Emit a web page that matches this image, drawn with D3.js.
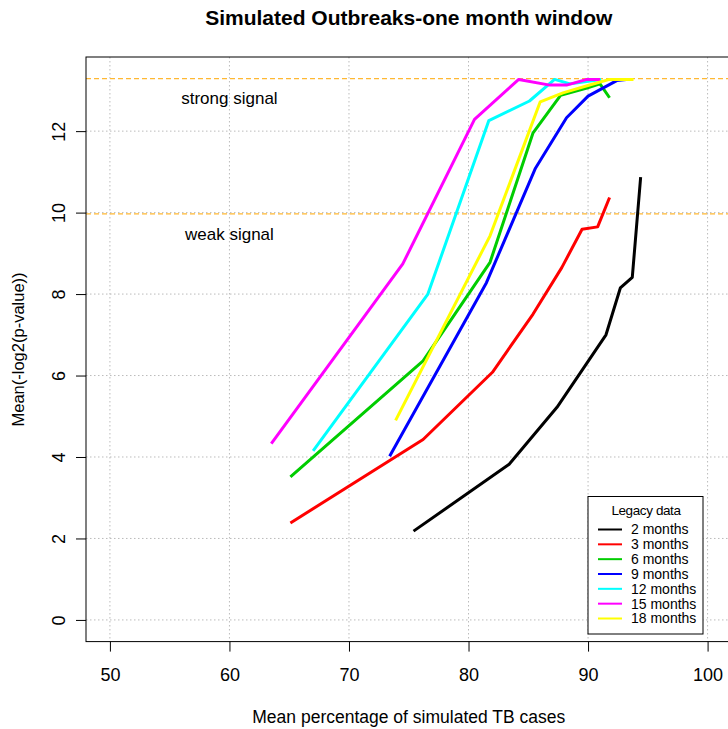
<!DOCTYPE html>
<html>
<head>
<meta charset="utf-8">
<script src="https://cdn.jsdelivr.net/npm/d3@7"></script>
<style>
  body { margin: 0; background: #fff; }
  svg { font-family: "Liberation Sans", Arial, sans-serif; }
</style>
</head>
<body>
<svg id="chart" width="728" height="729"></svg>
<script>
// series: mean % of simulated TB cases (x) vs mean -log2(p-value) (y)
var months = ["2 months", "3 months", "6 months", "9 months", "12 months", "15 months", "18 months"];
var colors = ["black", "red", "#00cd00", "blue", "cyan", "magenta", "yellow"];

var x2 = [75.4, 83.4, 87.4, 91.5, 92.7, 93.7, 94.4];
var y2 = [2.18, 3.82, 5.22, 7.00, 8.15, 8.41, 10.87];
var x3 = [65.1, 76.2, 82.0, 85.4, 87.8, 89.5, 90.8, 91.8];
var y3 = [2.38, 4.43, 6.08, 7.51, 8.65, 9.59, 9.65, 10.37];
var x6 = [65.1, 76.2, 81.8, 85.4, 87.7, 89.9, 91.0, 91.8];
var y6 = [3.51, 6.36, 8.78, 11.96, 12.88, 13.06, 13.16, 12.82];
var x9 = [73.4, 81.5, 85.6, 88.2, 90.0, 92.4, 93.2];
var y9 = [4.02, 8.28, 11.09, 12.33, 12.86, 13.24, 13.27];
var x12 = [67.0, 76.6, 81.7, 85.1, 87.2, 88.5, 91.1];
var y12 = [4.15, 8.00, 12.26, 12.74, 13.27, 13.16, 13.27];
var x15 = [63.5, 74.5, 80.5, 84.2, 86.8, 88.2, 89.9, 91.0];
var y15 = [4.33, 8.74, 12.29, 13.27, 13.13, 13.13, 13.27, 13.27];
var x18 = [73.9, 81.8, 86.0, 87.9, 90.2, 91.8, 93.8];
var y18 = [4.90, 9.43, 12.72, 12.94, 13.14, 13.27, 13.27];

var xs = [x2, x3, x6, x9, x12, x15, x18];
var ys = [y2, y3, y6, y9, y12, y15, y18];

var xTicks = [50, 60, 70, 80, 90, 100];
var yTicks = [0, 2, 4, 6, 8, 10, 12];
var strongLevel = 13.29, weakLevel = 9.97;

var svg = d3.select("#chart");

var margin = {top: 57, left: 86};
var width = 645.5, height = 584.6;

var xScale = d3.scaleLinear().domain([48, 102]).range([margin.left, margin.left + width]);
var yScale = d3.scaleLinear().domain([-0.532, 13.82]).range([margin.top + height, margin.top]);

// grid
svg.append("g").selectAll("line").data(xTicks).enter().append("line")
  .attr("x1", function(d) { return xScale(d); })
  .attr("x2", function(d) { return xScale(d); })
  .attr("y1", margin.top).attr("y2", margin.top + height)
  .attr("stroke", "#bbb").attr("stroke-dasharray", "1.5,2.5");
svg.append("g").selectAll("line").data(yTicks).enter().append("line")
  .attr("y1", function(d) { return yScale(d); })
  .attr("y2", function(d) { return yScale(d); })
  .attr("x1", margin.left).attr("x2", margin.left + width)
  .attr("stroke", "#bbb").attr("stroke-dasharray", "1.5,2.5");

// thresholds
[strongLevel, weakLevel].forEach(function(v) {
  svg.append("line")
    .attr("x1", margin.left).attr("x2", margin.left + width)
    .attr("y1", yScale(v)).attr("y2", yScale(v))
    .attr("stroke", "#ffb833").attr("stroke-width", 1.3)
    .attr("stroke-dasharray", "5,3");
});

svg.append("text").attr("x", xScale(60)).attr("y", yScale(12.8))
  .attr("text-anchor", "middle").attr("dy", "0.35em")
  .style("font-size", "17px").text("strong signal");
svg.append("text").attr("x", xScale(60)).attr("y", yScale(9.48))
  .attr("text-anchor", "middle").attr("dy", "0.35em")
  .style("font-size", "17px").text("weak signal");

// lines
var plotLine = d3.line()
  .x(function(d) { return xScale(d[0]); })
  .y(function(d) { return yScale(d[1]); });

for (var i = 0; i < months.length; i++) {
  var pts = xs[i].map(function(v, j) { return [v, ys[i][j]]; });
  svg.append("path")
    .datum(pts)
    .attr("d", plotLine)
    .attr("fill", "none")
    .attr("stroke", colors[i])
    .attr("stroke-width", 3)
    .attr("stroke-linejoin", "round");
}

// box
svg.append("rect")
  .attr("x", margin.left).attr("y", margin.top)
  .attr("width", width).attr("height", height)
  .attr("fill", "none").attr("stroke", "black").attr("stroke-width", 1);

// axes
var xAxis = d3.axisBottom(xScale).tickValues(xTicks).tickSize(10).tickPadding(17);
var gx = svg.append("g")
  .attr("transform", "translate(0," + (margin.top + height) + ")")
  .call(xAxis);
gx.select(".domain").remove();
gx.selectAll("text").style("font-size", "18px").attr("fill", "#000");

var yAxis = d3.axisLeft(yScale).tickValues(yTicks).tickSize(10);
var gy = svg.append("g")
  .attr("transform", "translate(" + margin.left + ",0)")
  .call(yAxis);
gy.select(".domain").remove();
gy.selectAll("text").remove();
gy.selectAll(".tick").append("text")
  .attr("transform", "translate(-21,0) rotate(-90)")
  .attr("text-anchor", "middle")
  .attr("fill", "#000")
  .style("font-size", "18px")
  .text(function(d) { return d; });

// titles
svg.append("text").attr("x", xScale(75)).attr("y", 25)
  .attr("text-anchor", "middle").style("font-size", "21px").style("font-weight", "bold")
  .text("Simulated Outbreaks-one month window");
svg.append("text").attr("x", xScale(75)).attr("y", 723)
  .attr("text-anchor", "middle").style("font-size", "17.5px")
  .text("Mean percentage of simulated TB cases");
svg.append("text")
  .attr("transform", "translate(24," + yScale(6.64) + ") rotate(-90)")
  .attr("text-anchor", "middle").style("font-size", "16.5px")
  .text("Mean(-log2(p-value))");

// legend
var lg = svg.append("g");
lg.append("rect").attr("x", 588).attr("y", 496.5).attr("width", 115).attr("height", 137.5)
  .attr("fill", "white").attr("stroke", "black");
lg.append("text").attr("x", 646).attr("y", 515).attr("text-anchor", "middle")
  .style("font-size", "13.5px").style("letter-spacing", "-0.4px").text("Legacy data");
var rowY = d3.scaleLinear().domain([0, 6]).range([529.5, 618.5]);
lg.selectAll(".item").data(months).enter().append("line")
  .attr("x1", 598).attr("x2", 622)
  .attr("y1", function(d, i) { return rowY(i); })
  .attr("y2", function(d, i) { return rowY(i); })
  .attr("stroke", function(d, i) { return colors[i]; })
  .attr("stroke-width", 2);
lg.selectAll(".lab").data(months).enter().append("text")
  .attr("x", 631).attr("y", function(d, i) { return rowY(i); })
  .attr("dy", "0.35em")
  .style("font-size", "14px")
  .text(function(d) { return d; });
</script>
</body>
</html>
